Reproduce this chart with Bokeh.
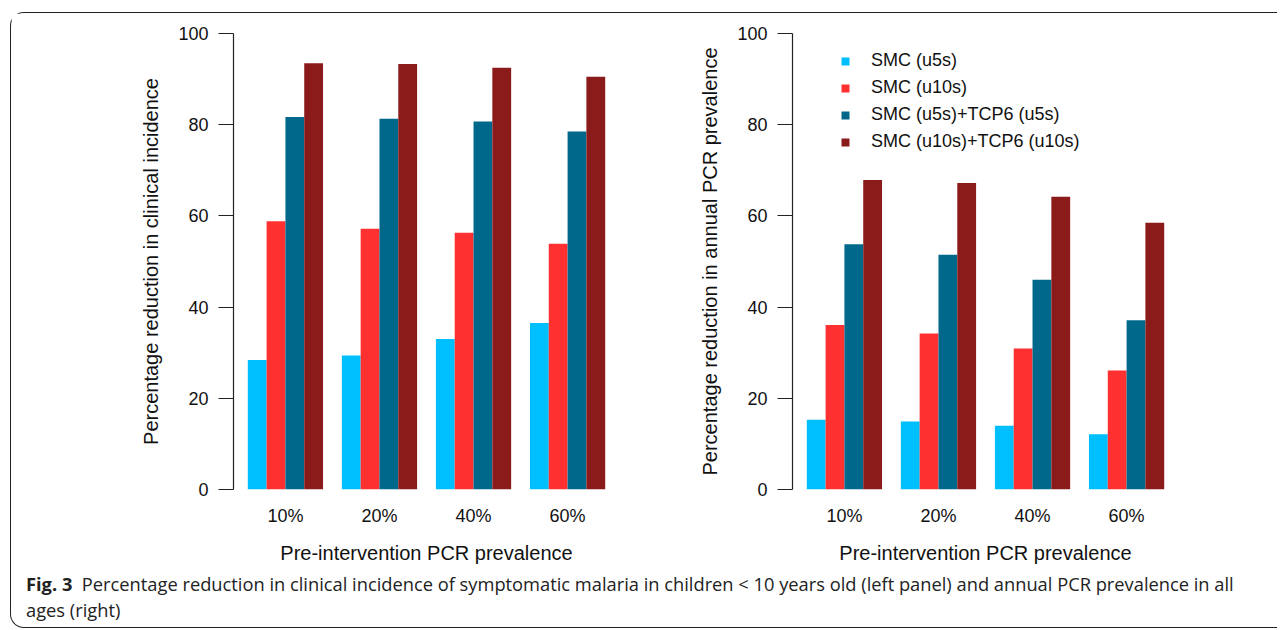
from bokeh.plotting import figure
from bokeh.models import Range1d, FixedTicker, Legend, LegendItem, Div, ColumnDataSource
from bokeh.layouts import row, column
from bokeh.embed import file_html
from bokeh.resources import INLINE

# ---------------- data ----------------
groups = ["10%", "20%", "40%", "60%"]
series = ["SMC (u5s)", "SMC (u10s)", "SMC (u5s)+TCP6 (u5s)", "SMC (u10s)+TCP6 (u10s)"]
colors = ["#00BFFF", "#FF3030", "#00688B", "#8B1A1A"]

incidence_smc_u5 = [28.4, 29.4, 33.0, 36.5]
incidence_smc_u10 = [58.8, 57.2, 56.3, 53.9]
incidence_tcp_u5 = [81.7, 81.3, 80.7, 78.5]
incidence_tcp_u10 = [93.5, 93.3, 92.5, 90.5]

pcr_smc_u5 = [15.3, 14.9, 14.0, 12.1]
pcr_smc_u10 = [36.1, 34.2, 30.9, 26.1]
pcr_tcp_u5 = [53.8, 51.5, 46.0, 37.1]
pcr_tcp_u10 = [67.9, 67.2, 64.2, 58.5]

yticks = [0, 20, 40, 60, 80, 100]
ylabel_left = "Percentage reduction in clinical incidence"
ylabel_right = "Percentage reduction in annual PCR prevalence"
xlabel = "Pre-intervention PCR prevalence"
caption_bold = "Fig. 3"
caption_text = ("Percentage reduction in clinical incidence of symptomatic malaria in children &lt; 10 years old "
                "(left panel) and annual PCR prevalence in all<br>ages (right)")

FONT = "Liberation Sans"
H = 556
MBT = 20
FRAME_H = 456
MBB = H - MBT - FRAME_H
FRAME_W = 386


def make_panel(values_list, ylabel, width, mbl, mbr, with_legend=False):
    p = figure(width=width, height=H, x_range=Range1d(0.24, 20.76), y_range=Range1d(0, 100),
               output_backend="svg", toolbar_location=None,
               min_border_left=mbl, min_border_right=mbr,
               min_border_top=MBT, min_border_bottom=MBB)
    p.outline_line_color = None
    p.xgrid.visible = False
    p.ygrid.visible = False
    p.background_fill_color = "white"
    p.border_fill_color = "white"

    renderers = []
    for s, vals in enumerate(values_list):
        src = ColumnDataSource(dict(x=[g * 5 + s + 1.5 for g in range(len(groups))], top=vals, group=groups))
        r = p.vbar(x="x", top="top", bottom=0, width=1, source=src,
                   fill_color=colors[s], line_color=None)
        renderers.append(r)

    ya = p.yaxis[0]
    ya.ticker = FixedTicker(ticks=yticks)
    ya.major_tick_out = 15
    ya.major_tick_in = 0
    ya.minor_tick_line_color = None
    ya.axis_line_color = "#222222"
    ya.major_tick_line_color = "#222222"
    ya.axis_line_width = 1.2
    ya.major_tick_line_width = 1.2
    ya.major_label_standoff = 10
    ya.major_label_text_font = FONT
    ya.major_label_text_font_size = "18px"
    ya.major_label_text_color = "#111111"
    ya.axis_label = ylabel
    ya.axis_label_text_font = FONT
    ya.axis_label_text_font_size = "20px"
    ya.axis_label_text_font_style = "normal"
    ya.axis_label_text_color = "#111111"
    ya.axis_label_standoff = 13

    xa = p.xaxis[0]
    centers = [g * 5 + 3 for g in range(len(groups))]
    xa.ticker = FixedTicker(ticks=centers)
    xa.major_label_overrides = {c: g for c, g in zip(centers, groups)}
    xa.axis_line_color = None
    xa.major_tick_line_color = None
    xa.minor_tick_line_color = None
    xa.major_label_standoff = 10
    xa.major_label_text_font = FONT
    xa.major_label_text_font_size = "18px"
    xa.major_label_text_color = "#111111"
    xa.axis_label = xlabel
    xa.axis_label_text_font = FONT
    xa.axis_label_text_font_size = "20px"
    xa.axis_label_text_font_style = "normal"
    xa.axis_label_text_color = "#111111"
    xa.axis_label_standoff = 13

    if with_legend:
        items = [LegendItem(label=s, renderers=[r]) for s, r in zip(series, renderers)]
        leg = Legend(items=items, location=(48, 337))
        leg.border_line_color = None
        leg.background_fill_alpha = 0
        leg.padding = 0
        leg.margin = 0
        leg.spacing = 6
        leg.glyph_width = 10
        leg.glyph_height = 10
        leg.label_height = 21
        leg.label_standoff = 21
        leg.label_text_font = FONT
        leg.label_text_font_size = "18px"
        leg.label_text_color = "#111111"
        p.add_layout(leg)
    return p


W1 = 672
W2 = 594
p1 = make_panel([incidence_smc_u5, incidence_smc_u10, incidence_tcp_u5, incidence_tcp_u10],
                ylabel_left, W1, 222, W1 - 222 - FRAME_W)
p2 = make_panel([pcr_smc_u5, pcr_smc_u10, pcr_tcp_u5, pcr_tcp_u10],
                ylabel_right, W2, 109, W2 - 109 - FRAME_W, with_legend=True)

cap = Div(text=f'<b>{caption_bold}</b>&nbsp;&nbsp;{caption_text}', width=W1 + W2, height=627 - 13 - H,
          margin=(0, 0, 0, 0),
          styles={"font-family": "Open Sans", "font-size": "18.3px", "line-height": "26px",
                  "color": "#222222", "padding-left": "15px", "padding-top": "2px"})

layout = column(row(p1, p2), cap, margin=(12, 0, 0, 10),
                styles={"border-top": "1px solid #222", "border-left": "1px solid #222",
                        "border-bottom": "1px solid #222",
                        "border-top-left-radius": "14px", "border-bottom-left-radius": "14px",
                        "background-color": "white"})

open("out.html", "w").write(file_html(layout, INLINE))
